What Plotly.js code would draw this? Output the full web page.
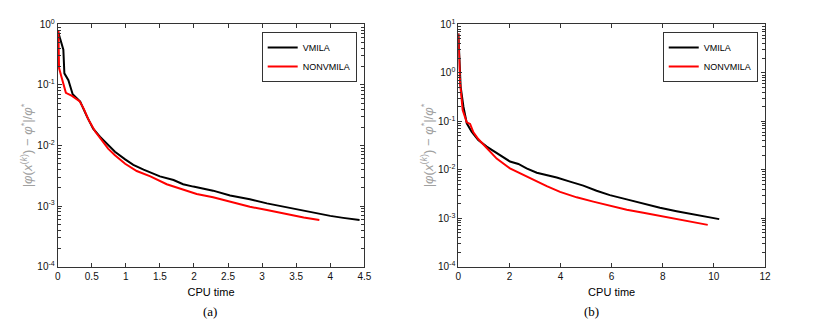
<!DOCTYPE html>
<html>
<head>
<meta charset="utf-8">
<script src="https://cdn.plot.ly/plotly-3.0.1.min.js"></script>
<style>
  html, body { margin: 0; padding: 0; background: #fff; }
  #chart { width: 823px; height: 333px; }
</style>
</head>
<body>
<div id="chart"></div>
<script>
// panel (a)
let tA_vmila = [0, 0.083, 0.098, 0.157, 0.22, 0.33, 0.43, 0.52, 0.62, 0.72, 0.84, 0.99, 1.11, 1.26, 1.50, 1.70, 1.84, 1.99, 2.28, 2.53, 2.82, 3.07, 3.31, 3.56, 3.85, 4.0, 4.19, 4.43];
let eA_vmila = [0.8, 0.38, 0.155, 0.12, 0.07, 0.053, 0.030, 0.019, 0.014, 0.0106, 0.0079, 0.0059, 0.0048, 0.0040, 0.0031, 0.0027, 0.0023, 0.0021, 0.0018, 0.0015, 0.0013, 0.00111, 0.00098, 0.00086, 0.00076, 0.00069, 0.00064, 0.00059];
let tA_non = [0.01, 0.02, 0.06, 0.12, 0.21, 0.32, 0.38, 0.45, 0.55, 0.65, 0.74, 0.84, 0.99, 1.16, 1.36, 1.60, 1.84, 2.04, 2.28, 2.58, 2.82, 3.07, 3.36, 3.61, 3.84];
let eA_non = [0.8, 0.19, 0.13, 0.074, 0.066, 0.054, 0.041, 0.027, 0.017, 0.0123, 0.0089, 0.0069, 0.0050, 0.0038, 0.0031, 0.0023, 0.00185, 0.00159, 0.0014, 0.00115, 0.00098, 0.00086, 0.00073, 0.00065, 0.00059];

// panel (b)
let tB_vmila = [0, 0.04, 0.09, 0.2, 0.33, 0.52, 0.78, 1.11, 1.5, 2.02, 2.35, 2.67, 3.07, 3.46, 3.85, 4.37, 4.89, 5.41, 5.93, 6.59, 7.24, 7.89, 8.54, 9.2, 9.85, 10.21];
let eB_vmila = [6.5, 1.34, 0.52, 0.2, 0.091, 0.061, 0.041, 0.030, 0.022, 0.0148, 0.0132, 0.0107, 0.0087, 0.0078, 0.0069, 0.0057, 0.0047, 0.0037, 0.0030, 0.00245, 0.0020, 0.00165, 0.0014, 0.0012, 0.00104, 0.00096];
let tB_non = [0, 0.07, 0.17, 0.33, 0.46, 0.59, 0.78, 1.11, 1.5, 2.02, 2.54, 3.07, 3.46, 3.98, 4.63, 5.28, 5.93, 6.59, 7.24, 7.89, 8.54, 9.2, 9.76];
let eB_non = [6.5, 0.6, 0.17, 0.095, 0.088, 0.059, 0.043, 0.028, 0.017, 0.0107, 0.0078, 0.0057, 0.0046, 0.0035, 0.0027, 0.0022, 0.0018, 0.0015, 0.0013, 0.00111, 0.00096, 0.00082, 0.00073];

let yTicksA = [1e-4, 1e-3, 1e-2, 1e-1, 1];
let yTextA = ["10<sup>-4</sup>", "10<sup>-3</sup>", "10<sup>-2</sup>", "10<sup>-1</sup>", "10<sup>0</sup>"];
let yTicksB = [1e-4, 1e-3, 1e-2, 1e-1, 1, 10];
let yTextB = ["10<sup>-4</sup>", "10<sup>-3</sup>", "10<sup>-2</sup>", "10<sup>-1</sup>", "10<sup>0</sup>", "10<sup>1</sup>"];

let ytitle = "|<i>φ</i>(<i>x</i><sup>(<i>k</i>)</sup>) − <i>φ</i><sup>*</sup>|/<i>φ</i><sup>*</sup>";

let data = [
    {x: tA_vmila, y: eA_vmila, name: 'VMILA', mode: 'lines', line: {color: '#000', width: 2}, xaxis: 'x', yaxis: 'y', legend: 'legend'},
    {x: tA_non, y: eA_non, name: 'NONVMILA', mode: 'lines', line: {color: '#ff0000', width: 2}, xaxis: 'x', yaxis: 'y', legend: 'legend'},
    {x: tB_vmila, y: eB_vmila, name: 'VMILA', mode: 'lines', line: {color: '#000', width: 2}, xaxis: 'x2', yaxis: 'y2', legend: 'legend2'},
    {x: tB_non, y: eB_non, name: 'NONVMILA', mode: 'lines', line: {color: '#ff0000', width: 2}, xaxis: 'x2', yaxis: 'y2', legend: 'legend2'}
];

let axisStyle = {
    showline: true,
    linecolor: '#333',
    linewidth: 1,
    mirror: 'ticks',
    ticks: 'inside',
    ticklen: 4,
    tickcolor: '#333',
    showgrid: false,
    zeroline: false,
    tickfont: {family: 'Liberation Sans, Arial', size: 10, color: '#111'}
};

let minorLog = {ticks: 'inside', ticklen: 3, tickcolor: '#333', dtick: 'D1', showgrid: false};

let legendStyle = {
    bordercolor: '#333',
    borderwidth: 1,
    bgcolor: '#fff',
    font: {family: 'Liberation Sans, Arial', size: 9, color: '#000'},
    xanchor: 'right',
    yanchor: 'top',
    tracegroupgap: 0,
    itemwidth: 30
};

let layout = {
    width: 823,
    height: 333,
    margin: {l: 0, r: 0, t: 0, b: 0},
    paper_bgcolor: '#fff',
    plot_bgcolor: '#fff',
    font: {family: 'Liberation Sans, Arial', color: '#000'},
    xaxis: Object.assign({}, axisStyle, {
        domain: [0.0701, 0.4427], range: [0, 4.5], dtick: 0.5, tick0: 0,
        anchor: 'y',
        title: {text: 'CPU time', font: {size: 11}, standoff: 7}
    }),
    yaxis: Object.assign({}, axisStyle, {
        domain: [0.199, 0.927], type: 'log', range: [-4, 0],
        tickvals: yTicksA, ticktext: yTextA, anchor: 'x',
        minor: minorLog,
        title: {text: ytitle, font: {size: 13, color: '#a0a0a0'}, standoff: 1}
    }),
    xaxis2: Object.assign({}, axisStyle, {
        domain: [0.5569, 0.9295], range: [0, 12], dtick: 2, tick0: 0,
        anchor: 'y2',
        title: {text: 'CPU time', font: {size: 11}, standoff: 7}
    }),
    yaxis2: Object.assign({}, axisStyle, {
        domain: [0.199, 0.927], type: 'log', range: [-4, 1],
        tickvals: yTicksB, ticktext: yTextB, anchor: 'x2',
        minor: minorLog,
        title: {text: ytitle, font: {size: 13, color: '#a0a0a0'}, standoff: 1}
    }),
    legend: Object.assign({}, legendStyle, {x: 0.4334, y: 0.904}),
    legend2: Object.assign({}, legendStyle, {x: 0.9207, y: 0.904}),
    annotations: [
        {text: '(a)', xref: 'paper', yref: 'paper', x: 0.2443, y: 0.036, showarrow: false,
         font: {family: 'Liberation Serif, Times New Roman', size: 13, color: '#000'}},
        {text: '(b)', xref: 'paper', yref: 'paper', x: 0.7302, y: 0.036, showarrow: false,
         font: {family: 'Liberation Serif, Times New Roman', size: 13, color: '#000'}}
    ],
    showlegend: true
};

Plotly.newPlot('chart', data, layout, {displayModeBar: false, responsive: false});
</script>
</body>
</html>
